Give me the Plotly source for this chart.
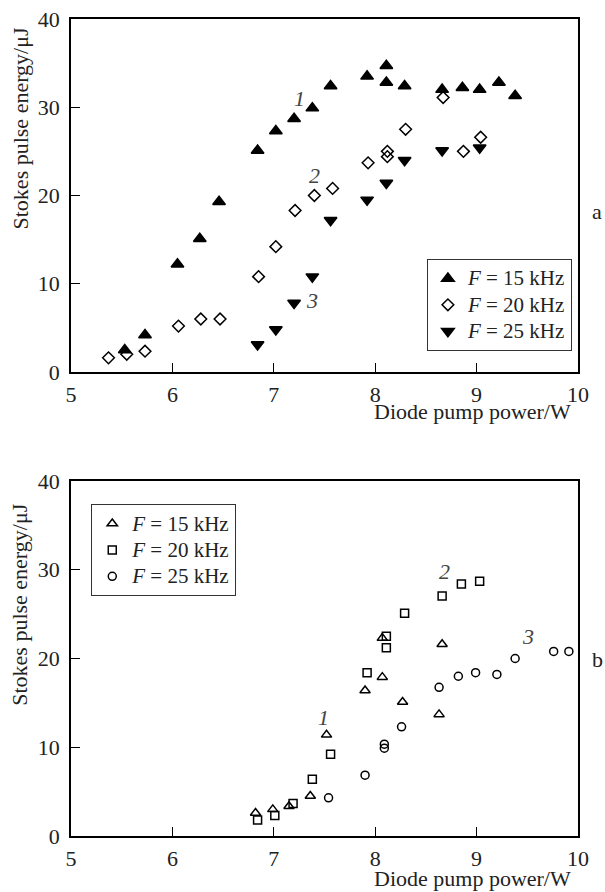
import plotly.graph_objects as go

# ---- data: panel a ----
a15_x = [5.53, 5.73, 6.05, 6.27, 6.46, 6.84, 7.02, 7.20, 7.38, 7.56, 7.92, 8.11, 8.11, 8.29, 8.66, 8.86, 9.03, 9.22, 9.38]
a15_y = [2.5, 4.2, 12.2, 15.1, 19.3, 25.1, 27.3, 28.7, 29.9, 32.4, 33.5, 34.7, 32.8, 32.4, 32.0, 32.2, 32.0, 32.8, 31.3]
a20_x = [5.37, 5.55, 5.73, 6.06, 6.28, 6.47, 6.85, 7.02, 7.21, 7.40, 7.58, 7.93, 8.12, 8.12, 8.30, 8.67, 8.87, 9.04]
a20_y = [1.6, 2.0, 2.35, 5.2, 6.0, 6.0, 10.8, 14.2, 18.3, 20.0, 20.8, 23.7, 25.0, 24.4, 27.5, 31.1, 25.0, 26.6]
a25_x = [6.84, 7.02, 7.20, 7.38, 7.56, 7.92, 8.11, 8.29, 8.66, 9.03]
a25_y = [3.1, 4.8, 7.8, 10.8, 17.2, 19.5, 21.4, 24.0, 25.1, 25.4]

# ---- data: panel b ----
b15_x = [6.82, 6.99, 7.15, 7.36, 7.52, 7.90, 8.07, 8.07, 8.27, 8.63, 8.66]
b15_y = [2.6, 3.0, 3.35, 4.5, 11.4, 16.4, 17.9, 22.3, 15.1, 13.7, 21.6]
b20_x = [6.84, 7.01, 7.19, 7.38, 7.56, 7.92, 8.11, 8.11, 8.29, 8.66, 8.85, 9.03]
b20_y = [1.8, 2.3, 3.65, 6.4, 9.2, 18.4, 22.5, 21.2, 25.1, 27.05, 28.4, 28.7]
b25_x = [7.54, 7.90, 8.09, 8.09, 8.26, 8.63, 8.82, 8.99, 9.20, 9.38, 9.76, 9.91]
b25_y = [4.3, 6.85, 10.35, 9.9, 12.3, 16.75, 18.0, 18.4, 18.2, 20.0, 20.8, 20.8]

legend_names = ["<i>F</i> = 15 kHz", "<i>F</i> = 20 kHz", "<i>F</i> = 25 kHz"]
x_ticks = [5, 6, 7, 8, 9, 10]
y_ticks = [0, 10, 20, 30, 40]
x_title = "Diode pump power/W"
y_title = "Stokes pulse energy/μJ"

FONT = "Liberation Serif, Times New Roman, serif"
FS = 22
LFS = 18          # legend row spacing
LTXT = 21         # legend text size
TXT = "#222"

fig = go.Figure()

def add(x, y, name, symbol, size, xa, ya, legend):
    fig.add_trace(go.Scatter(
        x=x, y=y, mode="markers",
        name=f'<span style="font-size:{LTXT}px">{name}</span>',
        marker=dict(symbol=symbol, size=size, color="black",
                    line=dict(color="black", width=1.5)),
        xaxis=xa, yaxis=ya, legend=legend))

add(a15_x, a15_y, legend_names[0], "triangle-up", 11, "x", "y", "legend")
add(a20_x, a20_y, legend_names[1], "diamond-open", 9, "x", "y", "legend")
add(a25_x, a25_y, legend_names[2], "triangle-down", 11, "x", "y", "legend")
add(b15_x, b15_y, legend_names[0], "triangle-up-open", 9, "x2", "y2", "legend2")
add(b20_x, b20_y, legend_names[1], "square-open", 8, "x2", "y2", "legend2")
add(b25_x, b25_y, legend_names[2], "circle-open", 8, "x2", "y2", "legend2")

axis_common = dict(
    showline=True, linecolor="black", linewidth=1.5, mirror=True,
    ticks="inside", ticklen=9, tickwidth=1.2, tickcolor="black",
    showgrid=False, zeroline=False, automargin=False,
    tickfont=dict(family=FONT, size=FS, color=TXT),
)

top_dom = [0.568, 1.0]
bot_dom = [0.0, 0.4345]

leg_common = dict(xanchor="left", yanchor="top",
                  bordercolor="#333", borderwidth=1, bgcolor="white",
                  font=dict(family=FONT, size=LFS, color=TXT),
                  itemwidth=30, tracegroupgap=0)

fig.update_layout(
    template="none",
    width=605, height=892,
    margin=dict(l=71, r=27, t=19, b=56, autoexpand=False),
    paper_bgcolor="white", plot_bgcolor="white",
    font=dict(family=FONT, size=FS, color=TXT),
    xaxis=dict(**axis_common, range=[5, 10], tickvals=x_ticks, domain=[0, 1], anchor="y",
               ticklabelstandoff=2),
    yaxis=dict(**axis_common, range=[0, 40], tickvals=y_ticks, domain=top_dom, anchor="x",
               ticklabelstandoff=5),
    xaxis2=dict(**axis_common, range=[5, 10], tickvals=x_ticks, domain=[0, 1], anchor="y2",
                ticklabelstandoff=2),
    yaxis2=dict(**axis_common, range=[0, 40], tickvals=y_ticks, domain=bot_dom, anchor="x2",
                ticklabelstandoff=5),
    legend=dict(x=0.702, y=0.706, **leg_common),
    legend2=dict(x=0.04, y=0.406, **leg_common),
    showlegend=True,
)

ann = []
# curve labels
for (xx, yy, t, xr, yr) in [(7.25, 31.0, "1", "x", "y"), (7.40, 22.3, "2", "x", "y"), (7.38, 8.1, "3", "x", "y"),
                            (7.49, 13.4, "1", "x2", "y2"), (8.68, 29.8, "2", "x2", "y2"), (9.51, 22.5, "3", "x2", "y2")]:
    ann.append(dict(x=xx, y=yy, xref=xr, yref=yr, text=f"<i>{t}</i>", showarrow=False,
                    font=dict(family=FONT, size=FS, color="#444")))
# axis titles
for yc in [0.519, -0.0515]:
    ann.append(dict(x=0.990, y=yc, xref="paper", yref="paper", text=x_title, showarrow=False,
                    xanchor="right", yanchor="middle", font=dict(family=FONT, size=FS, color=TXT)))
for yc in [0.866, 0.283]:
    ann.append(dict(x=-0.1006, y=yc, xref="paper", yref="paper", text=y_title, showarrow=False,
                    textangle=-90, xanchor="center", yanchor="middle",
                    font=dict(family=FONT, size=FS, color=TXT)))
# panel letters
for t, yc in [("a", 0.764), ("b", 0.2166)]:
    ann.append(dict(x=1.0375, y=yc, xref="paper", yref="paper", text=t, showarrow=False,
                    xanchor="center", yanchor="middle", font=dict(family=FONT, size=FS, color=TXT)))
fig.update_layout(annotations=ann)

# remove the default 8px page margin so the figure sits at the window's corner
fig.write_html("out.html",
               config={"displayModeBar": False},
               post_script="document.body.style.margin='0';document.body.style.overflow='hidden';")
